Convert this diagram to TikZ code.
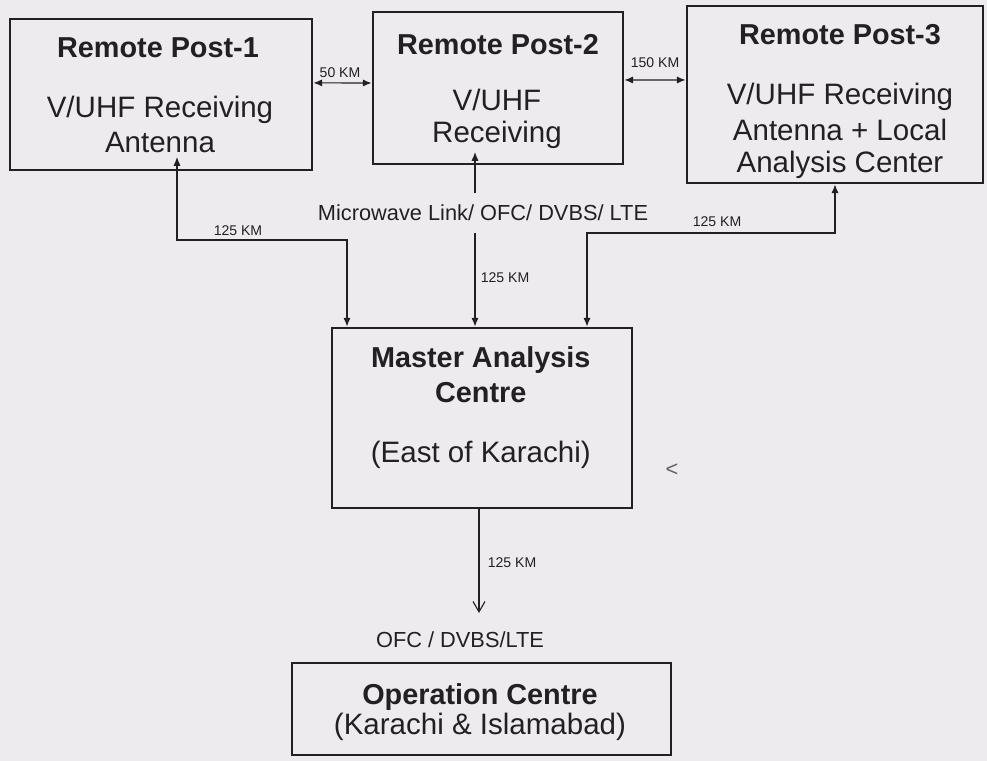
\documentclass[tikz,border=0pt]{standalone}
\usepackage{fontspec}
\setmainfont{Liberation Sans}
\usetikzlibrary{positioning,arrows.meta,calc}

\definecolor{paper}{RGB}{237,235,237}
\definecolor{ink}{RGB}{34,32,34}

\tikzset{
  postbox/.style={draw=ink, line width=2pt, fill=paper},
  title/.style={font=\fontsize{20.5}{24}\selectfont\bfseries, text=ink},
  body/.style={font=\fontsize{21}{24}\selectfont, text=ink},
  km/.style={font=\fontsize{10}{12}\selectfont, text=ink},
  midtext/.style={font=\fontsize{15.5}{18}\selectfont, text=ink},
  link/.style={draw=ink, line width=0.8pt},
  tip/.style={-{Latex[length=2.2mm,width=1.8mm]}},
  bothtips/.style={{Latex[length=2.2mm,width=1.8mm]}-{Latex[length=2.2mm,width=1.8mm]}},
}

\begin{document}
\begin{tikzpicture}[x=1cm,y=1cm, every node/.style={align=center}]
  \fill[paper] (0,0) rectangle (24.675,19.025);
  \useasboundingbox (0,0) rectangle (24.675,19.025);

  \node[postbox, minimum width=7.55cm, minimum height=3.775cm] (p1) at (4.025,16.6625) {};
  \node[postbox, minimum width=6.25cm, minimum height=3.8cm] (p2) at (12.45,16.825) {};
  \node[postbox, minimum width=7.4cm, minimum height=4.425cm] (p3) at (20.875,16.6625) {};
  \node[postbox, minimum width=7.5cm, minimum height=4.5cm] (mac) at (12.05,8.575) {};
  \node[postbox, minimum width=9.475cm, minimum height=2.3cm] (opc) at (12.0375,1.3) {};

  \node[title] (p1t) at (3.95,17.825) {Remote Post-1};
  \node[body] (p1a) at (4.0,16.275) {V/UHF Receiving};
  \node[body] (p1b) at (4.0,15.475) {Antenna};
  \node[title] (p2t) at (12.45,17.9) {Remote Post-2};
  \node[body] (p2a) at (12.425,16.525) {V/UHF};
  \node[body] (p2b) at (12.425,15.65) {Receiving};
  \node[title] (p3t) at (21.0,18.15) {Remote Post-3};
  \node[body] (p3a) at (21.0,16.6) {V/UHF Receiving};
  \node[body] (p3b) at (21.0,15.775) {Antenna + Local};
  \node[body] (p3c) at (21.0,14.9) {Analysis Center};
  \node[title] (mact) at (12.02,10.025) {Master Analysis};
  \node[title] (macu) at (12.02,9.2) {Centre};
  \node[body] (macp) at (12.02,7.65) {(East of Karachi)};
  \node[title] (opct) at (12.0,1.6) {Operation Centre};
  \node[body] (opcp) at (12.0,0.85) {(Karachi \& Islamabad)};

  \draw[link,bothtips] ([yshift=0.29cm]p1.east) -- ([yshift=0.125cm]p2.west);
  \node[km] (l50) at (8.5,17.2) {50 KM};
  \draw[link,bothtips] ([yshift=0.2cm]p2.east) -- ([yshift=0.3625cm]p3.west);
  \node[km] (l150) at (16.375,17.45) {150 KM};

  \coordinate (t1) at (4.425,15.1);
  \coordinate (k1) at (8.675,13.025);
  \draw[link,bothtips] (t1) |- (k1) -- (k1 |- mac.north);
  \node[km] (l1) at (5.95,13.25) {125 KM};

  \node[midtext, minimum height=1.0cm] (mw) at (12.075,13.7) {Microwave Link/ OFC/ DVBS/ LTE};
  \coordinate (t2) at (11.875,15.225);
  \draw[link,tip] (t2 |- mw.north) -- (t2);
  \draw[link,tip] (t2 |- mw.south) -- (t2 |- mac.north);
  \node[km] (l2) at (12.625,12.075) {125 KM};

  \coordinate (k3) at (14.675,13.2);
  \draw[link,bothtips] (p3.south) |- (k3) -- (k3 |- mac.north);
  \node[km] (l3) at (17.925,13.475) {125 KM};

  \coordinate (opin) at (11.975,3.7);
  \draw[link,-{Straight Barb[length=2.6mm,width=3mm]}] (opin |- mac.south) -- (opin);
  \node[km] (l4) at (12.8,4.95) {125 KM};
  \node[midtext] (ofc) at (11.5,3.025) {OFC / DVBS/LTE};

  \node[midtext, text=ink!70] (lt) at (16.8,7.275) {<};
\end{tikzpicture}
\end{document}
